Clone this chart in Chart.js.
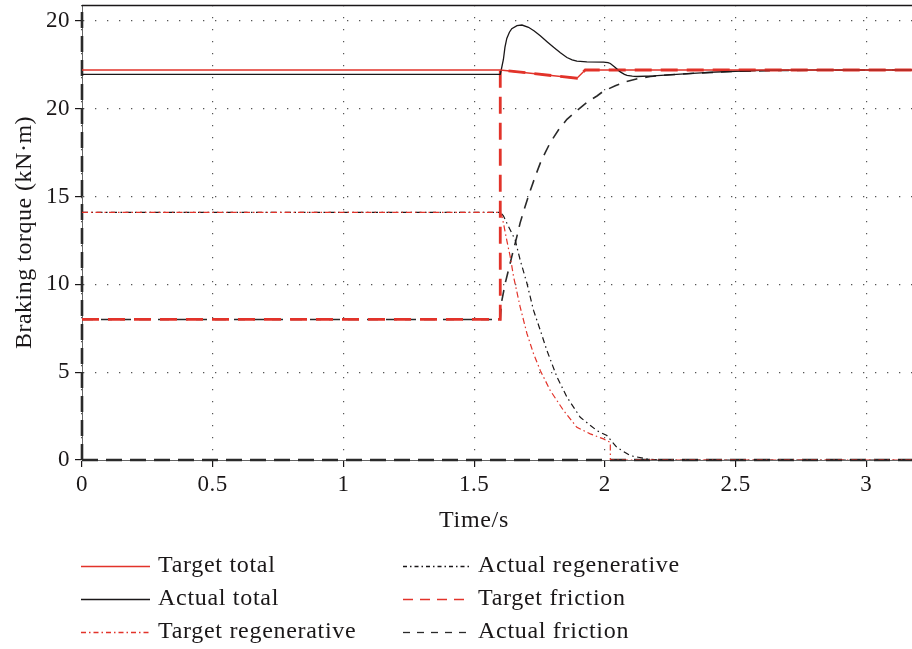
<!DOCTYPE html>
<html>
<head>
<meta charset="utf-8">
<title>Braking torque</title>
<script src="https://cdn.jsdelivr.net/npm/chart.js@4.4.1/dist/chart.umd.min.js"></script>
<style>
  html, body { margin: 0; padding: 0; background: #ffffff; }
  #wrap { width: 912px; height: 649px; position: relative; }
  canvas { display: block; }
</style>
</head>
<body>
<div id="wrap"><canvas id="torque" width="912" height="649"></canvas></div>
<script>
// Tick labels
const xTickLabels = ['0', '0.5', '1', '1.5', '2', '2.5', '3'];
const yTickLabels = ['0', '5', '10', '15', '20', '20'];

// Series names
const seriesLabels = [
  'Target total', 'Actual total', 'Target regenerative',
  'Actual regenerative', 'Target friction', 'Actual friction'
];

// Target total torque (kN·m) over time (s)
const targetTotalTime   = [0, 1.6, 1.893, 1.925, 3.175];
const targetTotalValues = [22.2, 22.2, 21.73, 22.2, 22.2];

// Actual total torque
const actualTotalTime = [0, 1.6, 1.605, 1.612, 1.618, 1.625, 1.635, 1.644, 1.664, 1.683, 1.708,
  1.73, 1.753, 1.78, 1.804, 1.83, 1.855, 1.875, 1.893, 1.931, 1.995, 2.012, 2.021, 2.04, 2.059,
  2.075, 2.085, 2.105, 2.123, 2.186, 2.289, 2.4, 2.5, 2.6, 2.8, 3.175];
const actualTotalValues = [21.95, 21.95, 22.3, 22.8, 23.5, 24.0, 24.35, 24.55, 24.72, 24.76, 24.63,
  24.42, 24.15, 23.8, 23.49, 23.18, 22.91, 22.78, 22.7, 22.66, 22.65, 22.62, 22.57, 22.34, 22.09,
  21.95, 21.9, 21.85, 21.83, 21.86, 21.96, 22.06, 22.13, 22.18, 22.2, 22.2];

// Target regenerative torque
const targetRegenTime = [0, 1.6, 1.606, 1.612, 1.625, 1.638, 1.651, 1.676, 1.702, 1.727, 1.753,
  1.791, 1.842, 1.893, 1.944, 1.995, 2.021, 2.021, 3.175];
const targetRegenValues = [14.1, 14.1, 13.9, 13.49, 12.5, 11.58, 10.43, 8.72, 7.2, 6.06, 5.1,
  3.96, 2.82, 1.86, 1.49, 1.2, 1.0, 0, 0];

// Actual regenerative torque
const actualRegenTime = [0, 1.6, 1.612, 1.625, 1.657, 1.676, 1.702, 1.727, 1.753, 1.778, 1.817,
  1.855, 1.906, 1.97, 2.008, 2.046, 2.097, 2.161, 2.212, 3.175];
const actualRegenValues = [14.1, 14.1, 13.9, 13.49, 12.53, 11.39, 10.06, 8.53, 7.39, 6.25, 4.72,
  3.58, 2.43, 1.67, 1.39, 0.72, 0.25, 0.06, 0, 0];

// Target friction torque
const targetFrictionTime   = [0, 1.6, 1.6, 1.893, 1.925, 3.175];
const targetFrictionValues = [8.0, 8.0, 22.2, 21.73, 22.2, 22.2];

// Actual friction torque
const actualFrictionTime = [0, 1.6, 1.605, 1.619, 1.644, 1.66, 1.676, 1.695, 1.714, 1.734, 1.753,
  1.772, 1.791, 1.823, 1.855, 1.899, 1.938, 1.97, 1.995, 2.04, 2.078, 2.125, 2.174, 2.25, 2.35,
  2.5, 2.7, 3.175];
const actualFrictionValues = [8.0, 8.0, 9.0, 10.06, 11.58, 12.5, 13.5, 14.43, 15.3, 16.15, 16.9,
  17.5, 18.06, 18.8, 19.39, 19.96, 20.43, 20.72, 21.0, 21.3, 21.52, 21.7, 21.83, 21.93, 22.02,
  22.12, 22.18, 22.2];

const RED = '#e2332a';
const INK = '#1a1718';
const FONT = '"Liberation Serif", "Times New Roman", serif';

function toPoints(times, values) {
  return times.map((t, i) => ({ x: t, y: values[i] }));
}

// Legend samples use thinner strokes than the plotted lines
const keyDashes = [[], [], [5, 3, 1.5, 3], [4, 3, 1.5, 3], [10, 7], [7, 7]];

function lineSet(label, times, values, color, width, dash, order) {
  return {
    label: label,
    data: toPoints(times, values),
    borderColor: color,
    backgroundColor: color,
    borderWidth: width,
    borderDash: dash,
    pointRadius: 0,
    tension: 0,
    fill: false,
    order: order
  };
}

const datasets = [
  lineSet(seriesLabels[0], targetTotalTime, targetTotalValues, RED, 1.3, [], 2),
  lineSet(seriesLabels[1], actualTotalTime, actualTotalValues, INK, 1.3, [], 3),
  lineSet(seriesLabels[2], targetRegenTime, targetRegenValues, RED, 1.2, [6, 3, 1.5, 3], 1),
  lineSet(seriesLabels[3], actualRegenTime, actualRegenValues, INK, 1.2, [6, 3.5, 1.5, 3.5], 4),
  lineSet(seriesLabels[4], targetFrictionTime, targetFrictionValues, RED, 2.8, [17, 9], 5),
  lineSet(seriesLabels[5], actualFrictionTime, actualFrictionValues, '#2a2a2a', 1.6, [11, 8], 6)
];

// Letter spacing to widen the serif text a little
const textSpacing = {
  id: 'textSpacing',
  beforeUpdate(chart) { chart.ctx.letterSpacing = '0.5px'; },
  beforeDraw(chart) { chart.ctx.letterSpacing = '0.5px'; }
};

// Top frame line and the heavy dashed lines along the zero axes
const frameLines = {
  id: 'frameLines',
  beforeDatasetsDraw(chart) {
    const { ctx, chartArea: a } = chart;
    ctx.save();
    ctx.strokeStyle = INK;
    ctx.lineWidth = 1.6;
    ctx.beginPath();
    ctx.moveTo(a.left, a.top + 0.5);
    ctx.lineTo(a.right, a.top + 0.5);
    ctx.stroke();
    ctx.strokeStyle = '#2a2a2a';
    ctx.lineWidth = 2.6;
    ctx.setLineDash([16, 8]);
    ctx.beginPath();
    ctx.moveTo(a.left, a.bottom);
    ctx.lineTo(a.right, a.bottom);
    ctx.stroke();
    ctx.beginPath();
    ctx.moveTo(a.left, a.bottom);
    ctx.lineTo(a.left, a.top);
    ctx.stroke();
    ctx.restore();
  }
};

// X axis title and the two-column series key below the plot
const seriesKey = {
  id: 'seriesKey',
  afterDraw(chart) {
    const ctx = chart.ctx;
    ctx.save();
    ctx.letterSpacing = '0.7px';
    ctx.fillStyle = INK;
    ctx.font = '24px ' + FONT;
    ctx.textBaseline = 'middle';
    ctx.textAlign = 'center';
    ctx.fillText('Time/s', 474, 521);

    const cols = [{ x1: 81, x2: 150, tx: 158 }, { x1: 403, x2: 470, tx: 478 }];
    const rows = [566, 599, 632];
    ctx.textAlign = 'left';
    chart.data.datasets.forEach((ds, i) => {
      const c = cols[Math.floor(i / 3)];
      const y = rows[i % 3];
      ctx.save();
      ctx.strokeStyle = ds.borderColor;
      ctx.lineWidth = 1.3;
      ctx.setLineDash(keyDashes[i]);
      ctx.beginPath();
      ctx.moveTo(c.x1, y + 0.5);
      ctx.lineTo(c.x2, y + 0.5);
      ctx.stroke();
      ctx.restore();
      ctx.fillText(ds.label, c.tx, y);
    });
    ctx.restore();
  }
};

new Chart(document.getElementById('torque'), {
  type: 'line',
  data: { datasets: datasets },
  plugins: [textSpacing, frameLines, seriesKey],
  options: {
    responsive: false,
    animation: false,
    devicePixelRatio: 1,
    layout: { padding: { top: 5, right: 0, bottom: 114, left: 0 } },
    plugins: {
      legend: { display: false },
      tooltip: { enabled: false }
    },
    scales: {
      x: {
        type: 'linear',
        min: 0,
        max: 3.175,
        ticks: {
          stepSize: 0.5,
          includeBounds: false,
          autoSkip: false,
          maxRotation: 0,
          padding: 4,
          color: INK,
          font: { family: FONT, size: 23 },
          callback: (v, i) => xTickLabels[i] ?? ''
        },
        grid: {
          color: '#555555',
          lineWidth: 1.2,
          tickLength: 7,
          tickColor: INK,
          tickWidth: 1.2
        },
        border: { display: true, color: '#666666', width: 1, dash: [1.3, 10.7] },
        title: { display: false },
        afterFit: (s) => { s.height = 75; s.paddingLeft = 0; s.paddingRight = 0; }
      },
      y: {
        type: 'linear',
        min: 0,
        max: 25.9,
        ticks: {
          stepSize: 5,
          includeBounds: false,
          padding: 5,
          color: INK,
          font: { family: FONT, size: 23 },
          callback: (v, i) => yTickLabels[i] ?? ''
        },
        grid: {
          color: '#555555',
          lineWidth: 1.2,
          tickLength: 7,
          tickColor: INK,
          tickWidth: 1.2
        },
        border: { display: true, color: '#666666', width: 1, dash: [1.3, 10.7] },
        title: {
          display: true,
          text: 'Braking torque (kN·m)',
          color: INK,
          font: { family: FONT, size: 24 },
          padding: { top: 10, bottom: 0 }
        },
        afterFit: (s) => { s.width = 82; s.paddingTop = 0; s.paddingBottom = 0; }
      }
    }
  }
});
</script>
</body>
</html>
